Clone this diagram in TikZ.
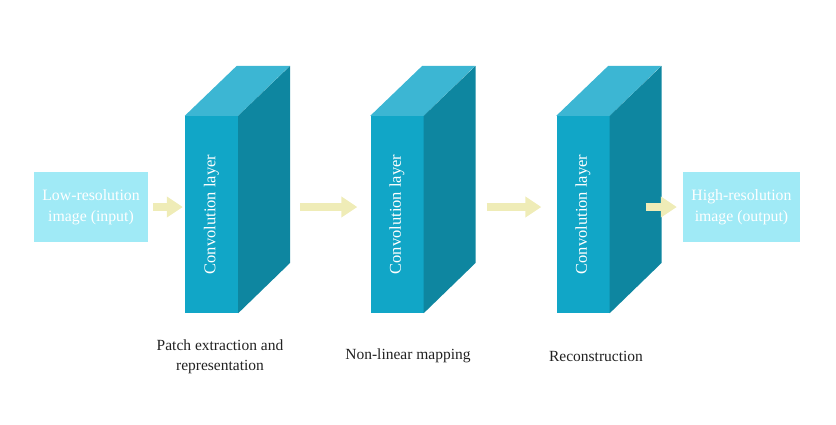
\documentclass[tikz,border=0pt]{standalone}
\usepackage{fontspec}
\setmainfont{Liberation Serif}
\usetikzlibrary{positioning,calc,arrows.meta}
\definecolor{boxcol}{HTML}{A0EAF6}
\definecolor{frontcol}{HTML}{11A6C7}
\definecolor{topcol}{HTML}{3CB6D3}
\definecolor{sidecol}{HTML}{0E86A0}
\definecolor{arrowcol}{HTML}{EFECB7}
\definecolor{labelcol}{HTML}{222222}
\tikzset{
  imgbox/.style={fill=boxcol,text=white,minimum height=70pt,align=center,inner sep=0pt,
    font=\fontsize{15.8}{21}\selectfont},
  convface/.style={fill=frontcol,minimum width=53pt,minimum height=197pt,inner sep=0pt},
  convtext/.style={text=white,rotate=90,font=\fontsize{16.5}{20}\selectfont},
  flow/.style={draw=arrowcol,line width=8pt,-{Triangle[length=16pt,width=20pt]}},
  steplabel/.style={text=labelcol,align=center},
}

\begin{document}
\begin{tikzpicture}[x=1pt,y=-1pt,font=\fontsize{15.5}{20}\selectfont]
\useasboundingbox (0,0) rectangle (836,424);
\node[imgbox,minimum width=114pt] (inbox) at (91,207) {Low-resolution\\image (input)};
\node[imgbox,minimum width=117pt] (outbox) at (741.5,207) {High-resolution\\image (output)};
% the three conv blocks
\foreach \i/\x in {1/211.5,2/397,3/583} {
  \node[convface] (conv\i) at (\x,214.5) {};
  \fill[topcol] (conv\i.north west) -- ++(52,-50) -- ++(53,0) -- (conv\i.north east) -- cycle;
  \fill[sidecol] (conv\i.north east) -- ++(52,-50) -- ++(0,197) -- (conv\i.south east) -- cycle;
  \node[convtext] (convlbl\i) at (conv\i) {Convolution layer};
}
\draw[flow] ([xshift=5pt]inbox.east) -- ([xshift=-2pt]inbox.east -| conv1.west);
\draw[flow] ($(inbox.east -| conv1.east)+(62,0)$) -- ([xshift=-13pt]inbox.east -| conv2.west);
\draw[flow] ($(inbox.east -| conv2.east)+(63,0)$) -- ([xshift=-15pt]inbox.east -| conv3.west);
\draw[flow] ($(outbox.west -| conv3.east)+(36,0)$) -- ([xshift=-6pt]outbox.west);
% labels under the blocks
\node[steplabel] (lab1) at (220,357) {Patch extraction and\\representation};
\node[steplabel] (lab2) at (408,356) {Non-linear mapping};
\node[steplabel] (lab3) at (596,356) {Reconstruction};
\end{tikzpicture}
\end{document}
